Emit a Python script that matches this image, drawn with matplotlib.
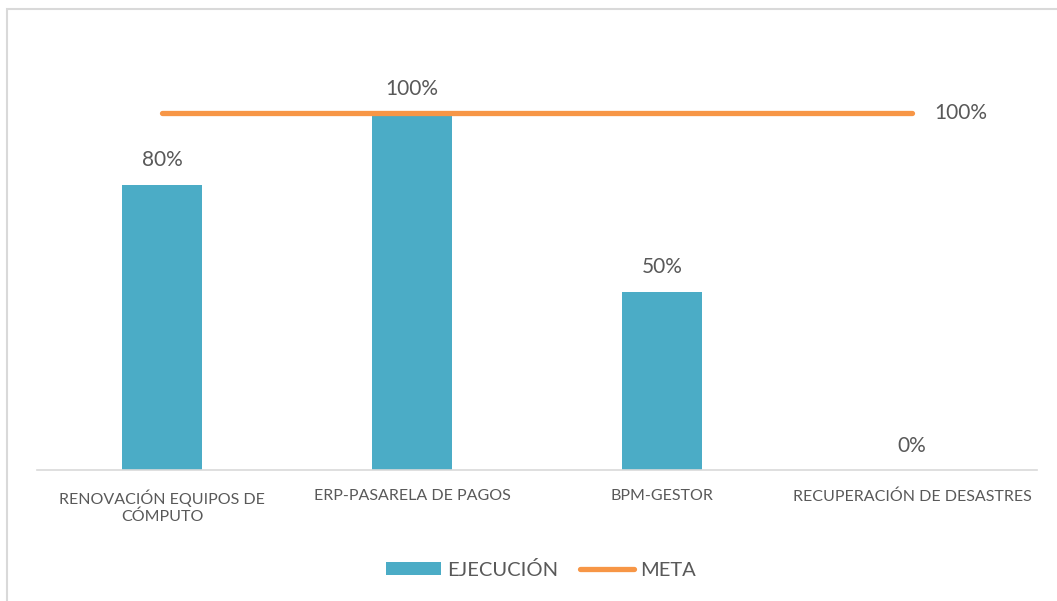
import matplotlib.pyplot as plt
from matplotlib.patches import Rectangle
import numpy as np

# Data
categories = ['RENOVACIÓN EQUIPOS DE\nCÓMPUTO', 'ERP-PASARELA DE PAGOS',
              'BPM-GESTOR', 'RECUPERACIÓN DE DESASTRES']
ejecucion = [0.80, 1.00, 0.50, 0.00]
meta = [1.00, 1.00, 1.00, 1.00]

bar_color = '#4BACC6'
line_color = '#F79646'
text_color = '#595959'

plt.rcParams['font.family'] = ['Lato', 'DejaVu Sans']

fig = plt.figure(figsize=(10.57, 6.01), dpi=100)
ax = fig.add_axes([0.035, 0.218, 0.946, 0.712])

x = np.arange(len(categories))
bars = ax.bar(x, ejecucion, width=0.32, color=bar_color, label='EJECUCIÓN', zorder=2)
line, = ax.plot(x, meta, color=line_color, linewidth=3.8, solid_capstyle='round',
                label='META', zorder=3)

# Data labels
for xi, v in zip(x, ejecucion):
    ax.text(xi, v + 0.04, f'{v:.0%}', ha='center', va='bottom',
            fontsize=15, color=text_color)
ax.text(x[-1] + 0.09, meta[-1], f'{meta[-1]:.0%}', ha='left', va='center',
        fontsize=15, color=text_color)

ax.set_xlim(-0.5, len(categories) - 0.5)
ax.set_ylim(0, 1.2)
ax.set_xticks(x)
ax.set_xticklabels(categories, fontsize=11.5, color=text_color)
ax.tick_params(axis='x', length=0, pad=14)
ax.set_yticks([])
for side in ['top', 'right', 'left']:
    ax.spines[side].set_visible(False)
ax.spines['bottom'].set_color('#d9d9d9')
ax.spines['bottom'].set_linewidth(1.2)

leg = fig.legend([bars, line], ['EJECUCIÓN', 'META'], loc='center',
                 bbox_to_anchor=(0.512, 0.052), ncol=2, frameon=False,
                 fontsize=14.5, handlelength=2.7, handleheight=0.65,
                 columnspacing=1.1, handletextpad=0.3)
for t in leg.get_texts():
    t.set_color(text_color)

# Chart border
fig.patches.append(Rectangle((7 / 1057, -0.05), 1.2, (601 - 9) / 601 + 0.05,
                             transform=fig.transFigure, fill=False,
                             edgecolor='#d9d9d9', linewidth=1.5))

plt.savefig('out.png', dpi=100)
